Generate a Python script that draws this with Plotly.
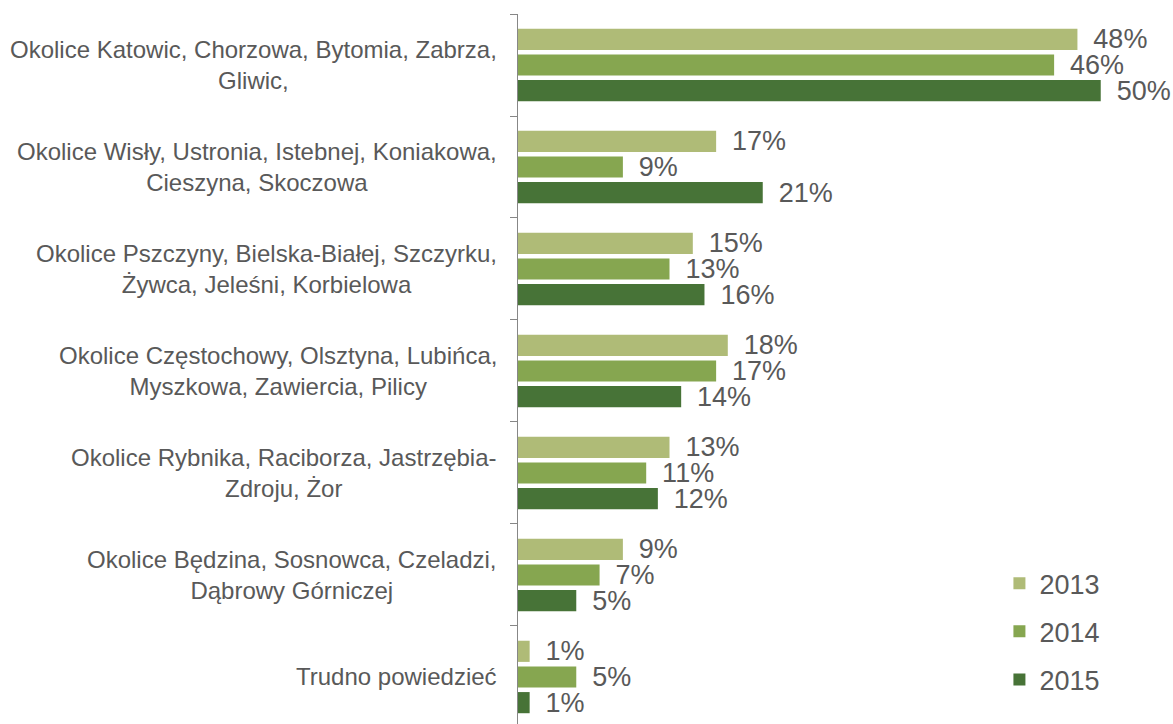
import plotly.graph_objects as go

# Regions (top to bottom) and share of answers per survey year, in %
categories = [
    "Okolice Katowic, Chorzowa, Bytomia, Zabrza,<br>Gliwic,",
    "Okolice Wisły, Ustronia, Istebnej, Koniakowa,<br>Cieszyna, Skoczowa",
    "Okolice Pszczyny, Bielska-Białej, Szczyrku,<br>Żywca, Jeleśni, Korbielowa",
    "Okolice Częstochowy, Olsztyna, Lubińca,<br>Myszkowa, Zawiercia, Pilicy",
    "Okolice Rybnika, Raciborza, Jastrzębia-<br>Zdroju, Żor",
    "Okolice Będzina, Sosnowca, Czeladzi,<br>Dąbrowy Górniczej",
    "Trudno powiedzieć",
]
years = ["2013", "2014", "2015"]
values_2013 = [48, 17, 15, 18, 13, 9, 1]
values_2014 = [46, 9, 13, 17, 11, 7, 5]
values_2015 = [50, 21, 16, 14, 12, 5, 1]

colors = ["#afbb77", "#86a650", "#477337"]
text_color = "#595959"
axis_color = "#878787"
font_family = "Liberation Sans, Arial, sans-serif"

positions = list(range(len(categories)))

fig = go.Figure()
for name, vals, col in zip(years, [values_2013, values_2014, values_2015], colors):
    fig.add_trace(go.Bar(
        y=positions,
        x=vals,
        name=name,
        orientation="h",
        marker=dict(color=col, line=dict(width=0)),
        text=[f"{v}%" for v in vals],
        texttemplate="\u00a0\u2009%{text}",
        textposition="outside",
        constraintext="none",
        cliponaxis=False,
        textfont=dict(size=27, color=text_color, family=font_family),
        legendgroup=name,
        hoverinfo="skip",
    ))

# Category labels, centred line by line, right-aligned against the axis
for i, cat in enumerate(categories):
    fig.add_annotation(
        x=0, y=i, xref="x", yref="y",
        text=cat, showarrow=False,
        xanchor="right", yanchor="middle", align="center",
        xshift=-19,
        font=dict(size=24, color=text_color, family=font_family),
    )

fig.update_layout(
    width=1173, height=724,
    margin=dict(l=518, r=0, t=14, b=0),
    paper_bgcolor="white", plot_bgcolor="white",
    barmode="group",
    bargap=0.245,
    bargroupgap=0.176,
    font=dict(family=font_family, color=text_color),
    legend=dict(
        x=0.735, xanchor="left",
        y=0.13, yanchor="middle",
        font=dict(size=27, color=text_color, family=font_family),
        traceorder="grouped",
        tracegroupgap=10,
        bgcolor="rgba(0,0,0,0)",
    ),
    showlegend=True,
)

fig.update_xaxes(
    range=[0, 56.2],
    visible=False,
    fixedrange=True,
)
# Tick marks sit on the boundaries between category groups
fig.update_yaxes(
    tickmode="array",
    tickvals=[p - 0.5 for p in positions],
    ticktext=[""] * len(positions),
    range=[6.461, -0.5],
    showline=True, linecolor=axis_color, linewidth=1,
    ticks="outside", ticklen=7, tickcolor=axis_color, tickwidth=1,
    showgrid=False, zeroline=False,
    fixedrange=True,
)

fig.write_html("out.html")
